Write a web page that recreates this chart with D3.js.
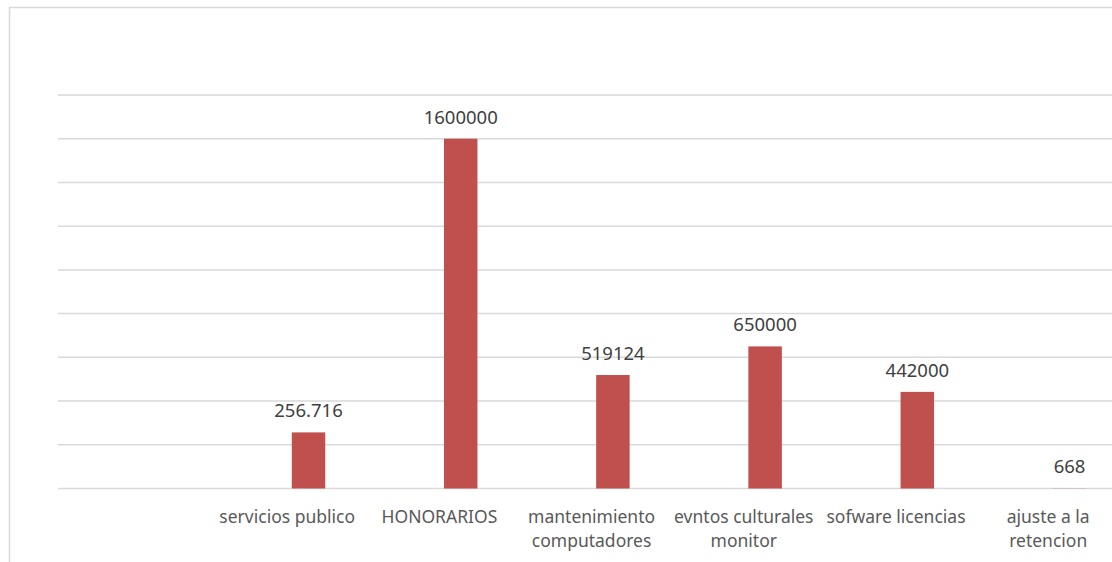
<!DOCTYPE html>
<html>
<head>
<meta charset="utf-8">
<script src="https://cdn.jsdelivr.net/npm/d3@7"></script>
<style>
  html, body { margin: 0; padding: 0; background: #ffffff; }
  svg { display: block; }
</style>
</head>
<body>
<svg id="chart" width="1112" height="562"></svg>
<script>
const categories = [
  "servicios publico",
  "HONORARIOS",
  "mantenimiento computadores",
  "evntos culturales monitor",
  "sofware licencias",
  "ajuste a la retencion"
];
const values = [256716, 1600000, 519124, 650000, 442000, 668];
const valueLabels = ["256.716", "1600000", "519124", "650000", "442000", "668"];
const yTicks = [0, 200000, 400000, 600000, 800000, 1000000, 1200000, 1400000, 1600000, 1800000];

const svg = d3.select("#chart");

// chart area border (extends past right/bottom edges like the cropped original)
svg.append("rect")
  .attr("x", 9.5).attr("y", 7.5)
  .attr("width", 1300).attr("height", 700)
  .attr("fill", "#ffffff")
  .attr("stroke", "#d9d9d9")
  .attr("stroke-width", 1.5);

// category bands
const x = d3.scaleBand()
  .domain(categories)
  .range([211.1, 1124.3])
  .padding(0);

// bar position inside each category band
const barOffset = x.bandwidth() * 0.53;
const barWidth = x.bandwidth() * 0.22;

const y = d3.scaleLinear()
  .domain([0, 1800000])
  .range([488.5, 95]);

// gridlines
svg.append("g")
  .selectAll("line")
  .data(yTicks)
  .join("line")
  .attr("x1", 58).attr("x2", 1200)
  .attr("y1", d => y(d)).attr("y2", d => y(d))
  .attr("stroke", "#d9d9d9")
  .attr("stroke-width", 1.5);

// bars
svg.append("g")
  .selectAll("rect")
  .data(values)
  .join("rect")
  .attr("x", (d, i) => x(categories[i]) + barOffset)
  .attr("width", barWidth)
  .attr("y", d => y(d))
  .attr("height", d => y(0) - y(d))
  .attr("fill", "#c0504d");

// value labels
svg.append("g")
  .selectAll("text")
  .data(values)
  .join("text")
  .attr("x", (d, i) => x(categories[i]) + barOffset + barWidth / 2)
  .attr("y", d => y(d) - 15)
  .attr("text-anchor", "middle")
  .attr("font-family", "'Noto Sans', sans-serif")
  .attr("font-size", 18.5)
  .attr("fill", "#404040")
  .text((d, i) => valueLabels[i]);

// category labels with wrapping
const step = x.step();
const catG = svg.append("g");
categories.forEach((c) => {
  const cx = x(c) + x.bandwidth() / 2;
  const t = catG.append("text")
    .attr("x", cx)
    .attr("y", 522.5)
    .attr("text-anchor", "middle")
    .attr("font-family", "'Noto Sans', sans-serif")
    .attr("font-size", 17.5)
    .attr("fill", "#595959");
  const words = c.split(" ");
  let line = [];
  let tspan = t.append("tspan").attr("x", cx).attr("dy", 0);
  words.forEach(w => {
    line.push(w);
    tspan.text(line.join(" "));
    if (tspan.node().getComputedTextLength() > step - 4 && line.length > 1) {
      line.pop();
      tspan.text(line.join(" "));
      line = [w];
      tspan = t.append("tspan").attr("x", cx).attr("dy", 24.4).text(w);
    }
  });
});
</script>
</body>
</html>
